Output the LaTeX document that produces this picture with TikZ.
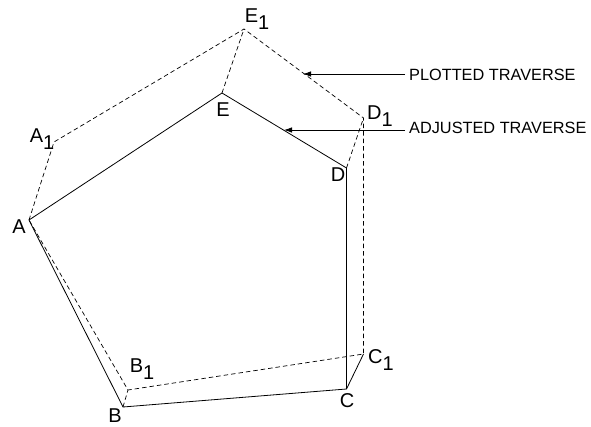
\documentclass[tikz,border=0pt]{standalone}
\usepackage{fontspec}
\setmainfont{Liberation Sans}
\usetikzlibrary{arrows.meta}
\newcommand{\subone}[1]{#1\raisebox{-7.5pt}{1}}
\tikzset{
  x=1pt,y=-1pt,
  adjusted/.style={line width=0.8pt,black},
  plotted/.style={line width=0.7pt,black,dash pattern=on 4.5pt off 3pt},
  leader/.style={line width=0.8pt,black,-{Latex[length=8pt,width=5.5pt]}},
  ptlabel/.style={inner sep=0pt,font=\fontsize{20}{20}\selectfont},
  note/.style={inner sep=0pt,anchor=west,font=\fontsize{16.3}{16.3}\selectfont}
}
\begin{document}
\begin{tikzpicture}
\useasboundingbox (0,0) rectangle (591,427);
\coordinate (A) at (29,220);
\coordinate (B) at (123,407);
\coordinate (C) at (346.5,389);
\coordinate (D) at (346.5,168);
\coordinate (E) at (222,93);
\coordinate (A1) at (54,142);
\coordinate (B1) at (128,390);
\coordinate (C1) at (363.5,354);
\coordinate (D1) at (363.5,118);
\coordinate (E1) at (244,29);
\coordinate (P) at (303,74);
\coordinate (Q) at (284,130);
\draw[adjusted] (A) -- (B) -- (C) -- (D) -- (E) -- cycle;
\draw[adjusted] (C) -- (C1);
\draw[plotted] (A) -- (A1) -- (E1) -- (D1) -- (C1) -- (B1) -- cycle;
\draw[plotted] (B) -- (B1);
\draw[plotted] (D) -- (D1);
\draw[plotted] (E) -- (E1);
\node[note] (plt) at (409,75) {PLOTTED TRAVERSE};
\node[note] (adj) at (409,128) {ADJUSTED TRAVERSE};
\draw[leader] (plt.west) ++(-4,-1) -- (P);
\draw[leader] (adj.west) ++(-4,2) -- (Q);
\node[ptlabel] (la) at (19,227) {A};
\node[ptlabel] (lb) at (115,416) {B};
\node[ptlabel] (lc) at (347,401) {C};
\node[ptlabel] (ld) at (338,175) {D};
\node[ptlabel] (le) at (223,110) {E};
\node[ptlabel] (la1) at (42,139) {\subone{A}};
\node[ptlabel] (lb1) at (142,369) {\subone{B}};
\node[ptlabel] (lc1) at (381,360) {\subone{C}};
\node[ptlabel] (ld1) at (380,116) {\subone{D}};
\node[ptlabel] (le1) at (257,19) {\subone{E}};
\end{tikzpicture}
\end{document}
